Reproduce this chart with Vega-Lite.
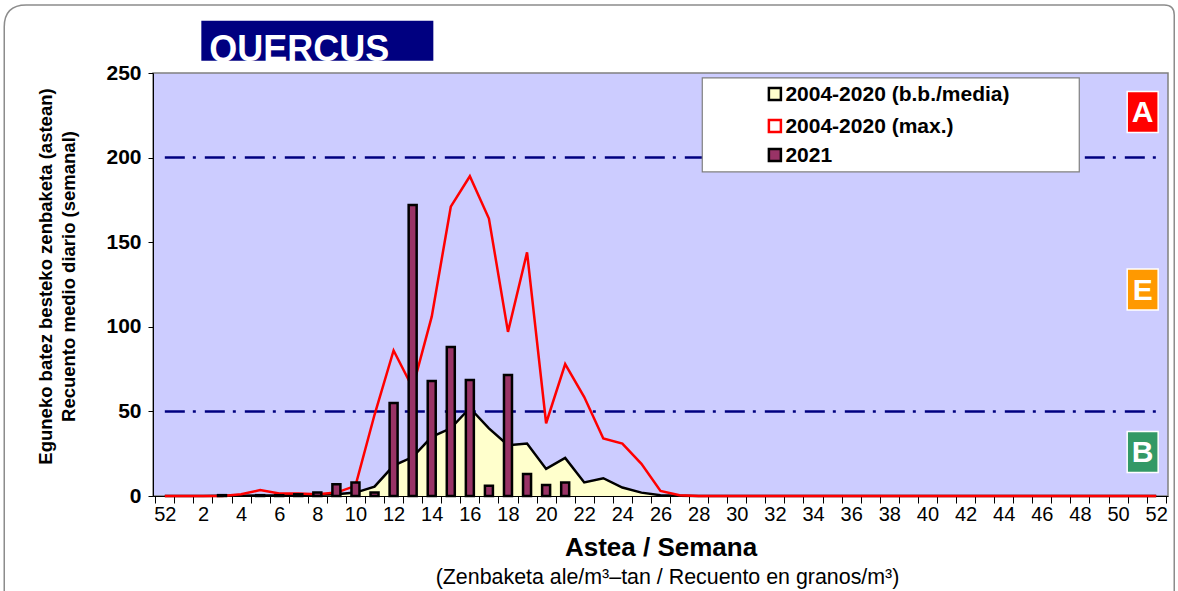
{
  "$schema": "https://vega.github.io/schema/vega-lite/v6.json",
  "width": 1015,
  "height": 423,
  "autosize": {"type": "none"},
  "padding": {"left": 153, "top": 73, "right": 10, "bottom": 95},
  "background": "white",
  "config": {
    "font": "Arial",
    "view": {"fill": "#ccccff", "stroke": "#808080", "strokeWidth": 1.5},
    "axis": {"domainColor": "black", "tickColor": "black", "labelColor": "black", "titleColor": "black", "grid": false}
  },
  "data": {
    "values": [
      {"i": 0, "media": 0, "max": 0, "y2021": 0},
      {"i": 1, "media": 0, "max": 0, "y2021": 0},
      {"i": 2, "media": 0, "max": 0, "y2021": 0},
      {"i": 3, "media": 0.2, "max": 0, "y2021": 0.5},
      {"i": 4, "media": 0.2, "max": 1, "y2021": 0},
      {"i": 5, "media": 0.3, "max": 3.5, "y2021": 0.5},
      {"i": 6, "media": 0.3, "max": 1.5, "y2021": 0.5},
      {"i": 7, "media": 0.5, "max": 1.5, "y2021": 1},
      {"i": 8, "media": 0.8, "max": 1, "y2021": 2},
      {"i": 9, "media": 1, "max": 2, "y2021": 7},
      {"i": 10, "media": 2, "max": 6, "y2021": 8},
      {"i": 11, "media": 5.5, "max": 48, "y2021": 2},
      {"i": 12, "media": 18, "max": 86, "y2021": 55},
      {"i": 13, "media": 23, "max": 64, "y2021": 172},
      {"i": 14, "media": 35, "max": 106, "y2021": 68},
      {"i": 15, "media": 40, "max": 171, "y2021": 88},
      {"i": 16, "media": 52, "max": 189, "y2021": 68.5},
      {"i": 17, "media": 40, "max": 164, "y2021": 6},
      {"i": 18, "media": 30, "max": 97, "y2021": 71.5},
      {"i": 19, "media": 31, "max": 144, "y2021": 13},
      {"i": 20, "media": 16, "max": 43, "y2021": 6.5},
      {"i": 21, "media": 22.5, "max": 78, "y2021": 8},
      {"i": 22, "media": 8, "max": 58.5, "y2021": 0},
      {"i": 23, "media": 10.5, "max": 34, "y2021": 0},
      {"i": 24, "media": 5, "max": 31, "y2021": 0},
      {"i": 25, "media": 2, "max": 19, "y2021": 0},
      {"i": 26, "media": 0.5, "max": 3, "y2021": 0},
      {"i": 27, "media": 0.2, "max": 0.5, "y2021": 0},
      {"i": 28, "media": 0, "max": 0, "y2021": 0},
      {"i": 29, "media": 0, "max": 0, "y2021": 0},
      {"i": 30, "media": 0, "max": 0, "y2021": 0},
      {"i": 31, "media": 0, "max": 0, "y2021": 0},
      {"i": 32, "media": 0, "max": 0, "y2021": 0},
      {"i": 33, "media": 0, "max": 0, "y2021": 0},
      {"i": 34, "media": 0, "max": 0, "y2021": 0},
      {"i": 35, "media": 0, "max": 0, "y2021": 0},
      {"i": 36, "media": 0, "max": 0, "y2021": 0},
      {"i": 37, "media": 0, "max": 0, "y2021": 0},
      {"i": 38, "media": 0, "max": 0, "y2021": 0},
      {"i": 39, "media": 0, "max": 0, "y2021": 0},
      {"i": 40, "media": 0, "max": 0, "y2021": 0},
      {"i": 41, "media": 0, "max": 0, "y2021": 0},
      {"i": 42, "media": 0, "max": 0, "y2021": 0},
      {"i": 43, "media": 0, "max": 0, "y2021": 0},
      {"i": 44, "media": 0, "max": 0, "y2021": 0},
      {"i": 45, "media": 0, "max": 0, "y2021": 0},
      {"i": 46, "media": 0, "max": 0, "y2021": 0},
      {"i": 47, "media": 0, "max": 0, "y2021": 0},
      {"i": 48, "media": 0, "max": 0, "y2021": 0},
      {"i": 49, "media": 0, "max": 0, "y2021": 0},
      {"i": 50, "media": 0, "max": 0, "y2021": 0},
      {"i": 51, "media": 0, "max": 0, "y2021": 0},
      {"i": 52, "media": 0, "max": 0, "y2021": 0}
    ]
  },
  "layer": [
    {
      "mark": {"type": "area", "opacity": 1, "color": "#ffffcc"},
      "encoding": {
        "x": {
          "field": "i", "type": "ordinal",
          "scale": {"paddingInner": 0, "paddingOuter": 0.12},
          "axis": {
            "labelExpr": "isValid(datum.value) ? (datum.value == 0 ? '52' : (datum.value % 2 == 0 ? '' + datum.value : '')) : ''",
            "labelAngle": 0, "labelFontSize": 20, "labelPadding": 1, "labelOverlap": false,
            "tickSize": 7, "tickBand": "extent",
            "title": "Astea / Semana", "titleFontSize": 26, "titleFontWeight": "bold", "titlePadding": 10
          }
        },
        "y": {
          "field": "media", "type": "quantitative",
          "scale": {"domain": [0, 250], "nice": false},
          "axis": {
            "values": [0, 50, 100, 150, 200, 250],
            "labelFontSize": 21, "labelFontWeight": "bold", "labelPadding": 7, "tickSize": 5,
            "title": ["Eguneko batez besteko zenbaketa (astean)", "Recuento medio diario (semanal)"],
            "titleFontSize": 18.5, "titleFontWeight": "bold", "titlePadding": 27, "titleLineHeight": 23,
            "titleY": 203
          }
        }
      }
    },
    {
      "mark": {"type": "line", "color": "black", "strokeWidth": 2.5},
      "encoding": {
        "x": {"field": "i", "type": "ordinal"},
        "y": {"field": "media", "type": "quantitative", "scale": {"domain": [0, 250], "nice": false}}
      }
    },
    {
      "data": {"values": [{"level": 200, "i": 0}, {"level": 200, "i": 52}, {"level": 50, "i": 0}, {"level": 50, "i": 52}]},
      "mark": {"type": "line", "color": "#000080", "strokeWidth": 2.5, "strokeDash": [20, 8, 3, 9]},
      "encoding": {
        "x": {"field": "i", "type": "ordinal"},
        "y": {"field": "level", "type": "quantitative", "scale": {"domain": [0, 250], "nice": false}},
        "detail": {"field": "level"}
      }
    },
    {
      "mark": {"type": "line", "color": "#ff0000", "strokeWidth": 2.5},
      "encoding": {
        "x": {"field": "i", "type": "ordinal"},
        "y": {"field": "max", "type": "quantitative", "scale": {"domain": [0, 250], "nice": false}}
      }
    },
    {
      "transform": [{"filter": "datum.y2021 > 0"}],
      "mark": {"type": "bar", "width": 8, "color": "#993366", "stroke": "black", "strokeWidth": 2.5, "opacity": 1},
      "encoding": {
        "x": {"field": "i", "type": "ordinal"},
        "y": {"field": "y2021", "type": "quantitative", "scale": {"domain": [0, 250], "nice": false}}
      }
    },
    {
      "data": {"values": [{"box": "legend"}]},
      "mark": {"type": "point", "shape": "M-1,-0.2493L1,-0.2493L1,0.2493L-1,0.2493Z", "size": 142129, "filled": true, "opacity": 1, "fill": "white", "stroke": "#808080", "strokeWidth": 1.2, "xOffset": 1.5},
      "encoding": {
        "x": {"datum": 38, "type": "ordinal"},
        "y": {"datum": 219.3, "type": "quantitative", "scale": {"domain": [0, 250], "nice": false}}
      }
    },
    {
      "data": {"values": [{"series": "2004-2020 (b.b./media)"}]},
      "mark": {"type": "point", "shape": "square", "size": 144, "filled": true, "opacity": 1, "fill": "#ffffcc", "stroke": "black", "strokeWidth": 2.5},
      "encoding": {
        "x": {"datum": 32, "type": "ordinal"},
        "y": {"datum": 237.6, "type": "quantitative", "scale": {"domain": [0, 250], "nice": false}}
      }
    },
    {
      "data": {"values": [{"series": "2004-2020 (b.b./media)"}]},
      "mark": {"type": "text", "align": "left", "baseline": "middle", "dx": 10.5, "dy": 1, "fontSize": 21, "fontWeight": "bold", "color": "black"},
      "encoding": {
        "x": {"datum": 32, "type": "ordinal"},
        "y": {"datum": 237.6, "type": "quantitative", "scale": {"domain": [0, 250], "nice": false}},
        "text": {"field": "series"}
      }
    },
    {
      "data": {"values": [{"series": "2004-2020 (max.)"}]},
      "mark": {"type": "point", "shape": "square", "size": 144, "filled": true, "opacity": 1, "fill": "white", "stroke": "#ff0000", "strokeWidth": 2.5},
      "encoding": {
        "x": {"datum": 32, "type": "ordinal"},
        "y": {"datum": 218.7, "type": "quantitative", "scale": {"domain": [0, 250], "nice": false}}
      }
    },
    {
      "data": {"values": [{"series": "2004-2020 (max.)"}]},
      "mark": {"type": "text", "align": "left", "baseline": "middle", "dx": 10.5, "dy": 1, "fontSize": 21, "fontWeight": "bold", "color": "black"},
      "encoding": {
        "x": {"datum": 32, "type": "ordinal"},
        "y": {"datum": 218.7, "type": "quantitative", "scale": {"domain": [0, 250], "nice": false}},
        "text": {"field": "series"}
      }
    },
    {
      "data": {"values": [{"series": "2021"}]},
      "mark": {"type": "point", "shape": "square", "size": 144, "filled": true, "opacity": 1, "fill": "#993366", "stroke": "black", "strokeWidth": 2.5},
      "encoding": {
        "x": {"datum": 32, "type": "ordinal"},
        "y": {"datum": 201.5, "type": "quantitative", "scale": {"domain": [0, 250], "nice": false}}
      }
    },
    {
      "data": {"values": [{"series": "2021"}]},
      "mark": {"type": "text", "align": "left", "baseline": "middle", "dx": 10.5, "dy": 1, "fontSize": 21, "fontWeight": "bold", "color": "black"},
      "encoding": {
        "x": {"datum": 32, "type": "ordinal"},
        "y": {"datum": 201.5, "type": "quantitative", "scale": {"domain": [0, 250], "nice": false}},
        "text": {"field": "series"}
      }
    },
    {
      "data": {"values": [{"zone": "A", "level": 227}, {"zone": "E", "level": 122}, {"zone": "B", "level": 26}]},
      "mark": {"type": "point", "shape": "M-0.756,-1L0.756,-1L0.756,1L-0.756,1Z", "size": 1681, "filled": true, "opacity": 1, "stroke": "white", "strokeWidth": 1.5, "xOffset": -13.5},
      "encoding": {
        "x": {"datum": 52, "type": "ordinal"},
        "y": {"field": "level", "type": "quantitative", "scale": {"domain": [0, 250], "nice": false}},
        "fill": {"field": "zone", "type": "nominal", "scale": {"domain": ["A", "E", "B"], "range": ["#ff0000", "#ff9900", "#339966"]}, "legend": null}
      }
    },
    {
      "data": {"values": [{"zone": "A", "level": 227}, {"zone": "E", "level": 122}, {"zone": "B", "level": 26}]},
      "mark": {"type": "text", "color": "white", "fontSize": 30, "fontWeight": "bold", "align": "center", "baseline": "middle", "dy": 1, "xOffset": -13.5},
      "encoding": {
        "x": {"datum": 52, "type": "ordinal"},
        "y": {"field": "level", "type": "quantitative", "scale": {"domain": [0, 250], "nice": false}},
        "text": {"field": "zone"}
      }
    },
    {
      "data": {"values": [{"taxon": "QUERCUS"}]},
      "mark": {"type": "point", "shape": "M-1,-0.1724L1,-0.1724L1,0.1724L-1,0.1724Z", "size": 53824, "filled": true, "opacity": 1, "color": "#000080", "clip": false},
      "encoding": {
        "x": {"datum": 8, "type": "ordinal"},
        "y": {"datum": 269, "type": "quantitative", "scale": {"domain": [0, 250], "nice": false}}
      }
    },
    {
      "data": {"values": [{"taxon": "QUERCUS"}]},
      "mark": {"type": "text", "color": "white", "fontSize": 36, "fontWeight": "bold", "align": "left", "baseline": "alphabetic", "dx": -108, "dy": 20, "clip": false},
      "encoding": {
        "x": {"datum": 8, "type": "ordinal"},
        "y": {"datum": 269, "type": "quantitative", "scale": {"domain": [0, 250], "nice": false}},
        "text": {"field": "taxon"}
      }
    },
    {
      "data": {"values": [{"note": "(Zenbaketa ale/m³–tan / Recuento en granos/m³)"}]},
      "mark": {"type": "text", "color": "black", "fontSize": 21.4, "fontWeight": "normal", "align": "center", "baseline": "middle", "dx": 7, "clip": false},
      "encoding": {
        "x": {"datum": 26, "type": "ordinal"},
        "y": {"datum": -48.5, "type": "quantitative", "scale": {"domain": [0, 250], "nice": false}},
        "text": {"field": "note"}
      }
    },
    {
      "data": {"values": [{"frame": "slide"}]},
      "mark": {"type": "point", "shape": "M-1,0.5128L-1,-0.4752Q-1,-0.5128,-0.9624,-0.5128L0.9829,-0.5128Q1,-0.5128,1,-0.4957L1,0.5128", "size": 1368900, "filled": false, "opacity": 1, "color": "#8c8c8c", "strokeWidth": 1.5, "xOffset": 5, "clip": false},
      "encoding": {
        "x": {"datum": 22, "type": "ordinal"},
        "y": {"datum": 112.9, "type": "quantitative", "scale": {"domain": [0, 250], "nice": false}}
      }
    }
  ]
}
